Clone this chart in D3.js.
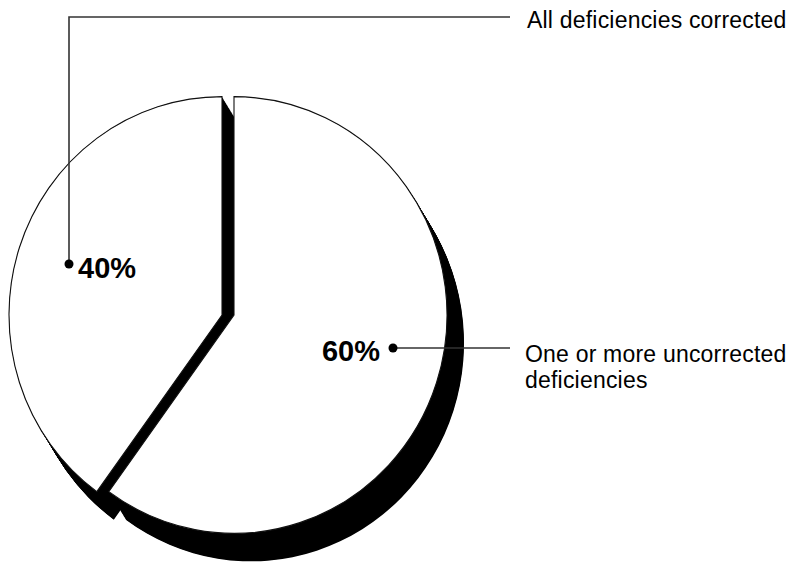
<!DOCTYPE html>
<html>
<head>
<meta charset="utf-8">
<script src="https://cdn.jsdelivr.net/npm/d3@7"></script>
<style>
  body { margin: 0; background: #fff; }
  svg { display: block; }
</style>
</head>
<body>
<svg id="chart"></svg>
<script>
'use strict';

// data
var categories = ['One or more uncorrected deficiencies', 'All deficiencies corrected'];
var shares = [60, 40];
var valueLabels = ['60%', '40%'];

var width = 797,
  height = 566,
  cx = 228,
  cy = 315,
  radius = 213,
  yStretch = 1.025,
  explode = 6,
  shadowDx = 17,
  shadowDy = 28,
  shadowSteps = 40;

var svg = d3.select('#chart').attr('width', width).attr('height', height);

var pie = d3.pie().sort(null).startAngle(0).endAngle(2 * Math.PI);
var arcs = pie(shares);

var arc = d3.arc().innerRadius(0).outerRadius(radius);

// slices are pulled apart sideways only
function offset(d) {
  var mid = (d.startAngle + d.endAngle) / 2;
  return [Math.sin(mid) > 0 ? explode : -explode, 0];
}

var pieG = svg.append('g')
  .attr('transform', 'translate(' + cx + ',' + cy + ') scale(1,' + yStretch + ')');

// extruded black shadow: the slice swept along the offset vector
var steps = d3.range(shadowSteps + 1);
var shadow = pieG.append('g');
arcs.forEach(function (d) {
  var o = offset(d);
  shadow.selectAll(null)
    .data(steps)
    .enter().append('path')
    .attr('d', arc(d))
    .attr('fill', '#000')
    .attr('transform', function (i) {
      var t = i / shadowSteps;
      return 'translate(' + (o[0] + t * shadowDx) + ',' + (o[1] + t * shadowDy / yStretch) + ')';
    });
});

pieG.selectAll('path.slice')
  .data(arcs)
  .enter().append('path')
  .attr('class', 'slice')
  .attr('d', arc)
  .attr('fill', '#fff')
  .attr('stroke', '#111')
  .attr('stroke-width', 1.1)
  .attr('transform', function (d) {
    var o = offset(d);
    return 'translate(' + o[0] + ',' + o[1] + ')';
  });

// annotation layout (dot, elbow path, text anchor) per slice
var callouts = [
  { dot: [393, 348], path: [[393, 348], [510, 348]], text: [525, 362], lines: ['One or more uncorrected', 'deficiencies'],
    value: [380, 361], anchor: 'end' },
  { dot: [69, 264], path: [[69, 264], [69, 17], [510, 17]], text: [527, 28], lines: ['All deficiencies corrected'],
    value: [78, 278], anchor: 'start' }
];

var font = 'Liberation Sans, Arial, Helvetica, sans-serif';

callouts.forEach(function (c, i) {
  svg.append('path')
    .attr('d', d3.line()(c.path))
    .attr('fill', 'none')
    .attr('stroke', '#333')
    .attr('stroke-width', 1.6);

  svg.append('circle')
    .attr('cx', c.dot[0]).attr('cy', c.dot[1]).attr('r', 4.5)
    .attr('fill', '#000');

  svg.append('text')
    .attr('x', c.value[0]).attr('y', c.value[1])
    .attr('text-anchor', c.anchor)
    .style('font-family', font)
    .style('font-weight', 'bold')
    .style('font-size', '29px')
    .attr('fill', '#000')
    .text(valueLabels[i]);

  var t = svg.append('text')
    .attr('x', c.text[0]).attr('y', c.text[1])
    .style('font-family', font)
    .style('font-size', '23px')
    .style('letter-spacing', '0.2px')
    .attr('fill', '#000');
  t.selectAll('tspan')
    .data(c.lines)
    .enter().append('tspan')
    .attr('x', c.text[0])
    .attr('dy', function (l, j) { return j ? 26 : 0; })
    .text(function (l) { return l; });
});
</script>
</body>
</html>
